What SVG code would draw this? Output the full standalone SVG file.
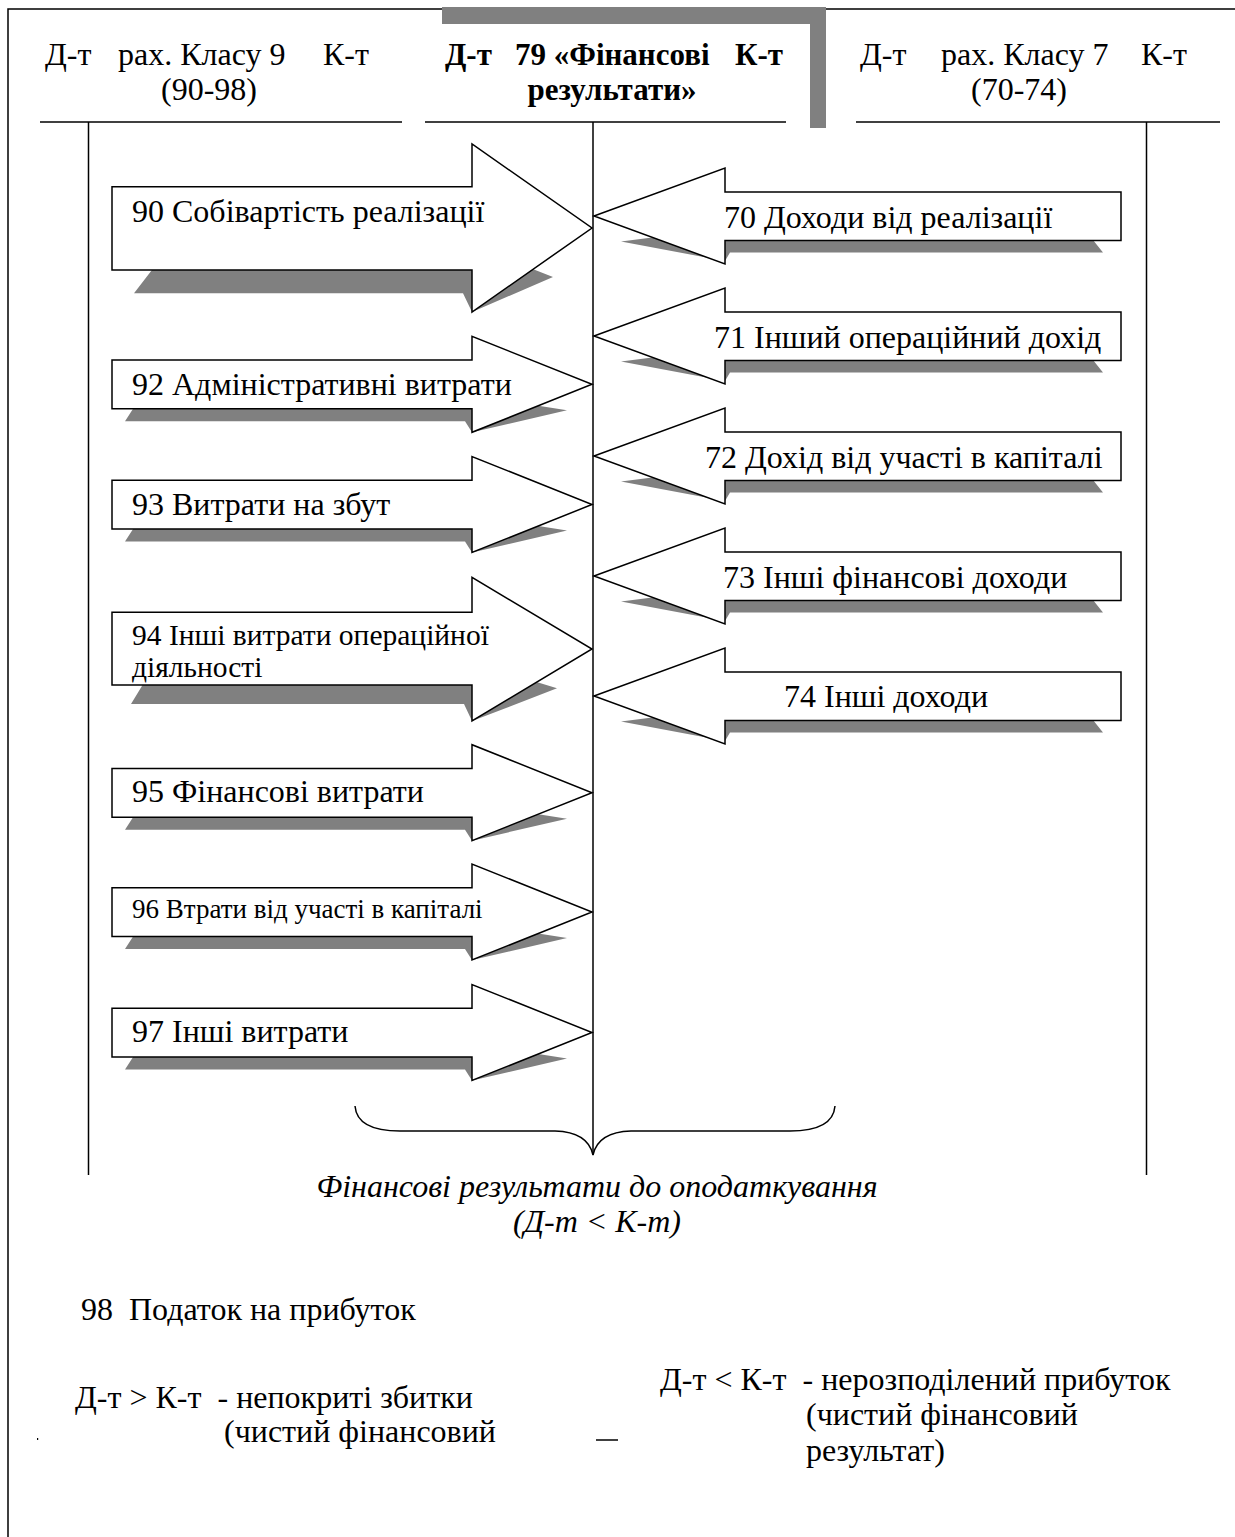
<svg xmlns="http://www.w3.org/2000/svg" width="1235" height="1537" viewBox="0 0 1235 1537">
<style>
text{font-family:"Liberation Serif","Times New Roman",serif;font-size:32px;fill:#000}
.b{font-weight:bold;font-size:31px}
.i{font-style:italic}
.pre{white-space:pre}
.ln{stroke:#000;stroke-width:1.5;fill:none}
.ar{fill:#fff;stroke:#000;stroke-width:1.5;stroke-linejoin:miter}
.sh{fill:#808080;stroke:none}
</style>
<rect width="1235" height="1537" fill="#fff"/>
<g id="frame">
<path class="ln" d="M8,1537 V9 H442 M826,9 H1235"/>
<rect x="442" y="7" width="384" height="121" fill="#808080"/>
<rect x="425" y="24" width="385" height="106" fill="#fff"/>
</g>
<g id="header-left">
<text x="45" y="65">Д-т</text><text x="118" y="65">рах. Класу 9</text><text x="323" y="65">К-т</text>
<text x="209" y="100" text-anchor="middle">(90-98)</text>
<line class="ln" x1="40" y1="122" x2="402" y2="122"/>
</g>
<g id="header-center">
<text class="b" x="445" y="65">Д-т</text><text class="b" x="515" y="65">79 «Фінансові</text><text class="b" x="735" y="65">К-т</text>
<text class="b" x="612" y="100" text-anchor="middle">результати»</text>
<line class="ln" x1="425" y1="122" x2="786" y2="122"/>
</g>
<g id="header-right">
<text x="860" y="65">Д-т</text><text x="941" y="65">рах. Класу 7</text><text x="1141" y="65">К-т</text>
<text x="1019" y="100" text-anchor="middle">(70-74)</text>
<line class="ln" x1="856" y1="122" x2="1220" y2="122"/>
</g>
<g id="connectors">
<line class="ln" x1="88.5" y1="122" x2="88.5" y2="1175"/>
<line class="ln" x1="593" y1="122" x2="593" y2="1155"/>
<line class="ln" x1="1146.5" y1="122" x2="1146.5" y2="1175"/>
<path class="ln" d="M355,1106 Q357,1131 400,1131 L555,1131 Q588,1132 593,1155 Q598,1132 631,1131 L790,1131 Q833,1131 835,1106"/>
</g>
<g id="a90">
<polygon class="sh" points="155,266 134,293.3 463,293.3 472,312 553,277 525,266"/>
<polygon class="ar" points="112,186.7 472,186.7 472,144 592,228 472,312 472,270 112,270"/>
<text x="132" y="222">90 Собівартість реалізації</text>
</g>
<g id="a92">
<polygon class="sh" points="135,405.8 125,421.3 465,421.3 472,432.3 567,410.3 532,404.8"/>
<polygon class="ar" points="112,360 472,360 472,336.3 592,384.3 472,432.3 472,408.8 112,408.8"/>
<text x="132" y="395">92 Адміністративні витрати</text>
</g>
<g id="a93">
<polygon class="sh" points="135,526 125,541.5 465,541.5 472,552.5 567,530.5 532,525"/>
<polygon class="ar" points="112,480.2 472,480.2 472,456.5 592,504.5 472,552.5 472,529 112,529"/>
<text x="132" y="515">93 Витрати на збут</text>
</g>
<g id="a94">
<polygon class="sh" points="145,681 131,704 464,704 472,721 557,688.3 530,680"/>
<polygon class="ar" points="112,612.3 472,612.3 472,577.3 592,649 472,721 472,685 112,685"/>
<text x="132" y="645" style="font-size:29.5px">94 Інші витрати операційної</text>
<text x="132" y="677" style="font-size:29.5px">діяльності</text>
</g>
<g id="a95">
<polygon class="sh" points="135,814.2 125,829.7 465,829.7 472,840.7 567,818.7 532,813.2"/>
<polygon class="ar" points="112,768.4 472,768.4 472,744.7 592,792.7 472,840.7 472,817.2 112,817.2"/>
<text x="132" y="802">95 Фінансові витрати</text>
</g>
<g id="a96">
<polygon class="sh" points="135,933.5 125,949 465,949 472,960 567,938 532,932.5"/>
<polygon class="ar" points="112,887.7 472,887.7 472,864 592,912 472,960 472,936.5 112,936.5"/>
<text x="132" y="918" style="font-size:27px">96 Втрати від участі в капіталі</text>
</g>
<g id="a97">
<polygon class="sh" points="135,1054 125,1069.5 465,1069.5 472,1080.5 567,1058.5 532,1053"/>
<polygon class="ar" points="112,1008.2 472,1008.2 472,984.5 592,1032.5 472,1080.5 472,1057 112,1057"/>
<text x="132" y="1042">97 Інші витрати</text>
</g>
<g id="a70">
<polygon class="sh" points="621,241.5 725,261 730,252.5 1103,252.5 1091,237.5 660,236.5"/>
<polygon class="ar" points="594,216 725,168 725,192 1121,192 1121,240.5 725,240.5 725,264"/>
<text x="724" y="228">70 Доходи від реалізації</text>
</g>
<g id="a71">
<polygon class="sh" points="621,361.5 725,381 730,372.5 1103,372.5 1091,357.5 660,356.5"/>
<polygon class="ar" points="594,336 725,288 725,312 1121,312 1121,360.5 725,360.5 725,384"/>
<text x="714" y="348">71 Інший операційний дохід</text>
</g>
<g id="a72">
<polygon class="sh" points="621,481.5 725,501 730,492.5 1103,492.5 1091,477.5 660,476.5"/>
<polygon class="ar" points="594,456 725,408 725,432 1121,432 1121,480.5 725,480.5 725,504"/>
<text x="705" y="468">72 Дохід від участі в капіталі</text>
</g>
<g id="a73">
<polygon class="sh" points="621,601.5 725,621 730,612.5 1103,612.5 1091,597.5 660,596.5"/>
<polygon class="ar" points="594,576 725,528 725,552 1121,552 1121,600.5 725,600.5 725,624"/>
<text x="723" y="588">73 Інші фінансові доходи</text>
</g>
<g id="a74">
<polygon class="sh" points="621,721.5 725,741 730,732.5 1103,732.5 1091,717.5 660,716.5"/>
<polygon class="ar" points="594,696 725,648 725,672 1121,672 1121,720.5 725,720.5 725,744"/>
<text x="784" y="707">74 Інші доходи</text>
</g>
<g id="result">
<text class="i" x="597" y="1197" text-anchor="middle">Фінансові результати до оподаткування</text>
<text class="i" x="597" y="1232" text-anchor="middle">(Д-т &lt; К-т)</text>
</g>
<g id="tax">
<text class="pre" x="81" y="1320">98  Податок на прибуток</text>
</g>
<g id="loss">
<text class="pre" x="75" y="1408">Д-т &gt; К-т  - непокриті збитки</text>
<text x="224" y="1442">(чистий фінансовий</text>
<rect x="37" y="1438" width="1.2" height="2" fill="#000"/>
</g>
<line class="ln" x1="596" y1="1440" x2="618" y2="1440"/>
<g id="profit">
<text class="pre" x="660" y="1390">Д-т &lt; К-т  - нерозподілений прибуток</text>
<text x="806" y="1425">(чистий фінансовий</text>
<text x="806" y="1461">результат)</text>
</g>
</svg>
